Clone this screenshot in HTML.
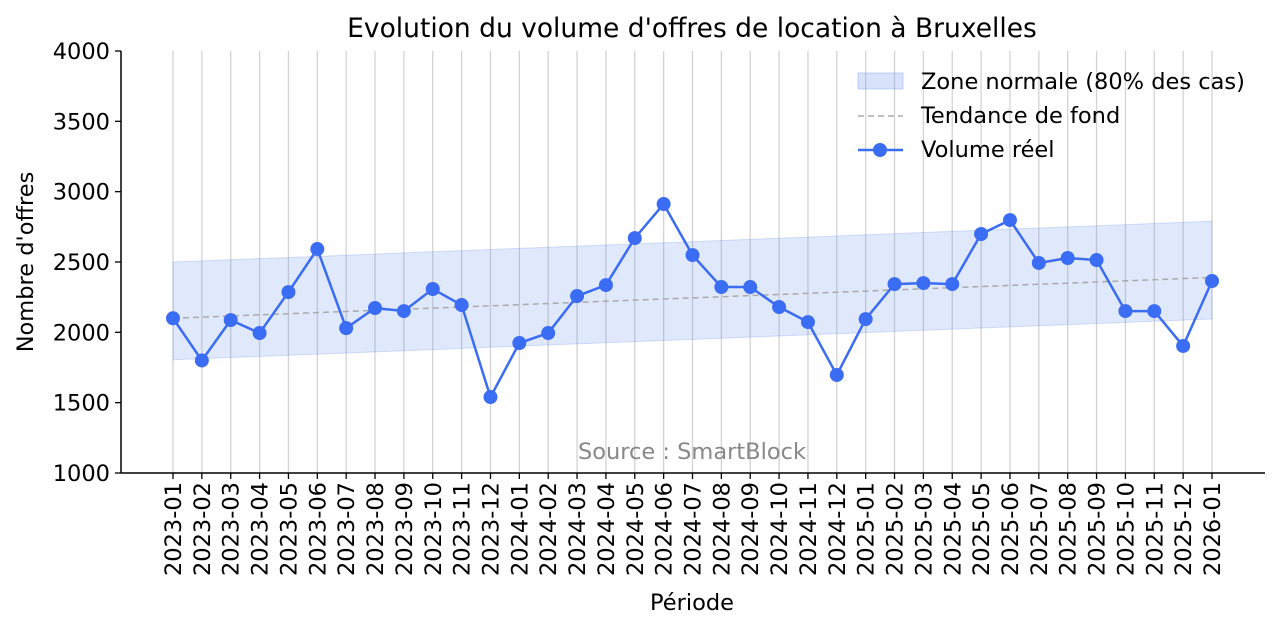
<!DOCTYPE html>
<html><head><meta charset="utf-8"><style>
body{margin:0;background:#fff;width:1280px;height:631px;overflow:hidden}
svg{font-family:"DejaVu Sans","Liberation Sans",sans-serif}
</style></head><body>
<svg id="chart" width="1280" height="631" xmlns="http://www.w3.org/2000/svg"></svg>
<script>
const periods=["2023-01","2023-02","2023-03","2023-04","2023-05","2023-06","2023-07","2023-08","2023-09","2023-10","2023-11","2023-12","2024-01","2024-02","2024-03","2024-04","2024-05","2024-06","2024-07","2024-08","2024-09","2024-10","2024-11","2024-12","2025-01","2025-02","2025-03","2025-04","2025-05","2025-06","2025-07","2025-08","2025-09","2025-10","2025-11","2025-12","2026-01"];
const volumes=[2100,1800,2087,1995,2286,2592,2030,2173,2151,2308,2194,1540,1924,1995,2258,2336,2670,2912,2549,2322,2322,2180,2073,1697,2094,2343,2350,2343,2699,2798,2493,2528,2514,2151,2151,1903,2365];
const trendStart=2100, trendEnd=2390;
const bandUpper=400, bandLower=295;
const yTicks=[1000,1500,2000,2500,3000,3500,4000];
const NS="http://www.w3.org/2000/svg";
const svg=document.getElementById('chart');
const X0=173,X1=1212,Y0=473,Y1=51,YMIN=1000,YMAX=4000;
const FS=22.5;
const xs=i=>X0+(X1-X0)*i/(periods.length-1);
const ys=v=>Y0-(v-YMIN)/(YMAX-YMIN)*(Y0-Y1);
function el(t,a,txt){const e=document.createElementNS(NS,t);for(const k in a)e.setAttribute(k,a[k]);if(txt!==undefined)e.textContent=txt;svg.appendChild(e);return e;}
const n=periods.length;
const trend=i=>trendStart+(trendEnd-trendStart)*i/(n-1);
periods.forEach((p,i)=>{const g=el('line',{x1:xs(i),x2:xs(i),y1:Y1,y2:Y0,stroke:'#d3d3d3','stroke-width':1.3});

});
let bp=[];for(let i=0;i<n;i++)bp.push(xs(i)+','+ys(trend(i)+bandUpper));for(let i=n-1;i>=0;i--)bp.push(xs(i)+','+ys(trend(i)-bandLower));
const band=el('polygon',{points:bp.join(' '),fill:'rgba(100,140,240,0.2)',stroke:'rgba(100,140,240,0.25)'});


const tr=el('line',{x1:xs(0),y1:ys(trend(0)),x2:xs(n-1),y2:ys(trend(n-1)),stroke:'#aaa','stroke-width':1.5,'stroke-dasharray':'6,4'});


const vl=el('polyline',{points:volumes.map((v,i)=>xs(i)+','+ys(v)).join(' '),fill:'none',stroke:'#3a6cf4','stroke-width':2.5});


volumes.forEach((v,i)=>{const c=el('circle',{cx:xs(i),cy:ys(v),r:7,fill:'#3a6cf4'});

});
const ax1=el('line',{x1:121,x2:121,y1:Y1,y2:Y0,stroke:'#000','stroke-width':1.5});


const ax2=el('line',{x1:121,x2:1265,y1:Y0,y2:Y0,stroke:'#000','stroke-width':1.5});


yTicks.forEach(v=>{el('line',{x1:115,x2:121,y1:ys(v),y2:ys(v),stroke:'#000','stroke-width':1.3});
const t=el('text',{x:110,y:ys(v)+8,'text-anchor':'end','font-size':FS},v);

});
periods.forEach((p,i)=>{el('line',{x1:xs(i),x2:xs(i),y1:Y0,y2:Y0+6,stroke:'#000','stroke-width':1.3});
const t=el('text',{transform:`translate(${xs(i)+8},482) rotate(-90)`,'text-anchor':'end','font-size':FS},p);

});
const ti=el('text',{x:692,y:37,'text-anchor':'middle','font-size':26.5},"Evolution du volume d'offres de location à Bruxelles");


const xl=el('text',{x:692,y:610,'text-anchor':'middle','font-size':FS},"Période");


const yl=el('text',{transform:'translate(33,262) rotate(-90)','text-anchor':'middle','font-size':FS},"Nombre d'offres");


const src=el('text',{x:692,y:459,'text-anchor':'middle','font-size':FS,fill:'#888'},"Source : SmartBlock");


el('rect',{x:858,y:73,width:45,height:16,fill:'rgba(100,140,240,0.25)',stroke:'rgba(100,140,240,0.35)'});
const l1=el('text',{x:921,y:89,'font-size':FS},"Zone normale (80% des cas)");


el('line',{x1:858,x2:903,y1:116,y2:116,stroke:'#aaa','stroke-width':1.5,'stroke-dasharray':'6,4'});
const l2=el('text',{x:921,y:123,'font-size':FS},"Tendance de fond");


el('line',{x1:858,x2:903,y1:150,y2:150,stroke:'#3a6cf4','stroke-width':2.5});
el('circle',{cx:880,cy:150,r:7,fill:'#3a6cf4'});
const l3=el('text',{x:921,y:157,'font-size':FS},"Volume réel");


</script>
</body></html>
